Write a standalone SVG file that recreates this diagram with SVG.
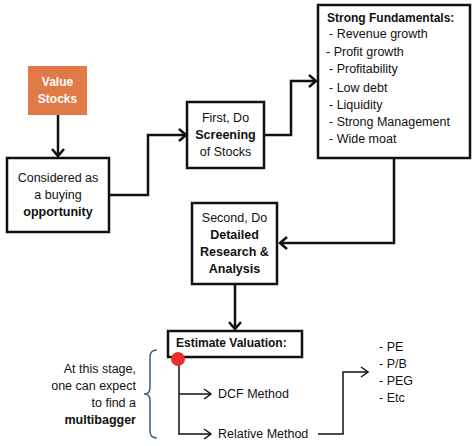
<svg xmlns="http://www.w3.org/2000/svg" width="474" height="446" viewBox="0 0 474 446">
<style>
text{font-family:"Liberation Sans",Arial,sans-serif;font-size:12.5px;fill:#111}
.b{font-weight:bold}
.c{text-anchor:middle}
.r{text-anchor:end}
.box{fill:#fff;stroke:#111;stroke-width:2.5}
.thick{fill:none;stroke:#111;stroke-width:2.5}
.thin{fill:none;stroke:#111;stroke-width:1.5}
</style>
<defs>
<marker id="ah" markerUnits="userSpaceOnUse" markerWidth="16" markerHeight="16" viewBox="-10 -8 12 16" refX="0" refY="0" orient="auto">
<path d="M-7,-6 L0,0 L-7,6" fill="none" stroke="#111" stroke-width="2.5"/>
</marker>
<marker id="at" markerUnits="userSpaceOnUse" markerWidth="16" markerHeight="16" viewBox="-10 -8 12 16" refX="0" refY="0" orient="auto">
<path d="M-7,-5 L0,0 L-7,5" fill="none" stroke="#111" stroke-width="1.5"/>
</marker>
</defs>
<rect width="474" height="446" fill="#fff"/>
<g id="connectors">
<path class="thick" d="M58,115 V156" marker-end="url(#ah)"/>
<path class="thick" d="M109,195 H148 V135 H186" marker-end="url(#ah)"/>
<path class="thick" d="M264,135 H291 V81 H316" marker-end="url(#ah)"/>
<path class="thick" d="M394,158 V243 H280" marker-end="url(#ah)"/>
<path class="thick" d="M235,284 V329" marker-end="url(#ah)"/>
<path class="thin" d="M179,359 V434 H211" marker-end="url(#at)"/>
<path class="thin" d="M179,394 H211" marker-end="url(#at)"/>
<path class="thin" d="M318,434 H343 V372 H368" marker-end="url(#at)"/>
</g>
<g id="value-stocks">
<rect x="28" y="66" width="59" height="49" fill="#E07A47"/>
<text class="b c" x="57.5" y="86" style="fill:#fff;font-size:12px">Value</text>
<text class="b c" x="57.5" y="103" style="fill:#fff;font-size:12px">Stocks</text>
</g>
<g id="considered">
<rect class="box" x="7" y="158" width="102" height="74"/>
<text class="c" x="58" y="182">Considered as</text>
<text class="c" x="58" y="199">a buying</text>
<text class="b c" x="58" y="216">opportunity</text>
</g>
<g id="screening">
<rect class="box" x="187" y="102" width="77" height="66"/>
<text class="c" x="225.5" y="122">First, Do</text>
<text class="b c" x="225.5" y="139">Screening</text>
<text class="c" x="225.5" y="156">of Stocks</text>
</g>
<g id="fundamentals">
<rect class="box" x="318" y="5" width="152" height="153"/>
<text class="b" x="327" y="22" style="font-size:12px">Strong Fundamentals:</text>
<text x="329" y="38">- Revenue growth</text>
<text x="326" y="56">- Profit growth</text>
<text x="329" y="73">- Profitability</text>
<text x="329" y="92">- Low debt</text>
<text x="329" y="109">- Liquidity</text>
<text x="329" y="126">- Strong Management</text>
<text x="329" y="143">- Wide moat</text>
</g>
<g id="research">
<rect class="box" x="192" y="203" width="85" height="81"/>
<text class="c" x="234.5" y="222">Second, Do</text>
<text class="b c" x="234.5" y="239">Detailed</text>
<text class="b c" x="234.5" y="256">Research &amp;</text>
<text class="b c" x="234.5" y="273">Analysis</text>
</g>
<g id="valuation">
<rect class="box" x="168" y="331" width="134" height="26"/>
<text class="b" x="176" y="347" style="font-size:12px">Estimate Valuation:</text>
</g>
<g id="dot">
<circle cx="178" cy="359" r="7" fill="#E8312A"/>
</g>
<g id="dcf">
<text x="218" y="398">DCF Method</text>
</g>
<g id="relative">
<text x="218" y="438">Relative Method</text>
</g>
<g id="ratios">
<text x="379" y="351">- PE</text>
<text x="379" y="368">- P/B</text>
<text x="379" y="385">- PEG</text>
<text x="379" y="402">- Etc</text>
</g>
<g id="note">
<path d="M157,350 Q150,350 150,357 V388 Q150,394 144,394 Q150,394 150,400 V431 Q150,438 157,438" fill="none" stroke="#3A6383" stroke-width="1.5"/>
<text class="r" x="136" y="373">At this stage,</text>
<text class="r" x="136" y="390">one can expect</text>
<text class="r" x="136" y="407">to find a</text>
<text class="b r" x="136" y="424">multibagger</text>
</g>
</svg>
